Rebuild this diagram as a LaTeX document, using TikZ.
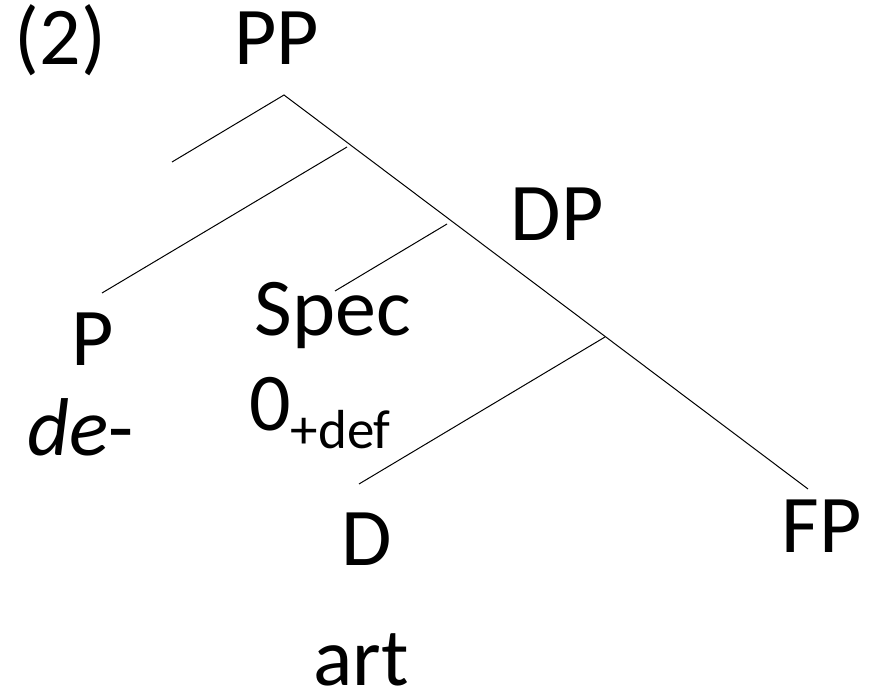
\documentclass[tikz,border=0pt]{standalone}
\usepackage{fontspec}
\setmainfont{Carlito}
\begin{document}
\begin{tikzpicture}[x=1pt,y=-1pt,
  lbl/.style={inner sep=0pt, anchor=base, font=\fontsize{82}{98}\selectfont},
  lblw/.style={lbl, anchor=base west},
  branch/.style={line width=1pt, draw=black}]
\useasboundingbox (0,0) rectangle (871,693);

% labels
\node[lbl] (num)  at (60.5,65)  {(2)};
\node[lbl] (pp)   at (276.5,65) {PP};
\node[lbl] (dp)   at (557,240) {DP};
\node[lbl] (spec) at (333,335)  {Spec};
\node[lblw] (zero) at (249,430) {0\raisebox{-18pt}{\fontsize{55}{62}\selectfont +def}};
\node[lbl] (p)    at (92.5,365) {P};
\node[lbl] (de)   at (80.5,455) {\textit{de}-};
\node[lbl] (d)    at (366.5,565) {D};
\node[lbl] (fp)   at (822,552)  {FP};
\node[lbl] (art)  at (361,685)  {art};

% branch end points
\coordinate (top)   at (284,95);
\coordinate (topL)  at (172,162);
\coordinate (spine) at (808,489);
\coordinate (pA)    at (347,147);
\coordinate (pB)    at (102,293);
\coordinate (sA)    at (447,224);
\coordinate (sB)    at (335,291);
\coordinate (dA)    at (605,337);
\coordinate (dB)    at (359,484);

% branches
\draw[branch] (topL) -- (top) -- (spine);
\draw[branch] (pA) -- (pB);
\draw[branch] (sA) -- (sB);
\draw[branch] (dA) -- (dB);
\end{tikzpicture}
\end{document}
